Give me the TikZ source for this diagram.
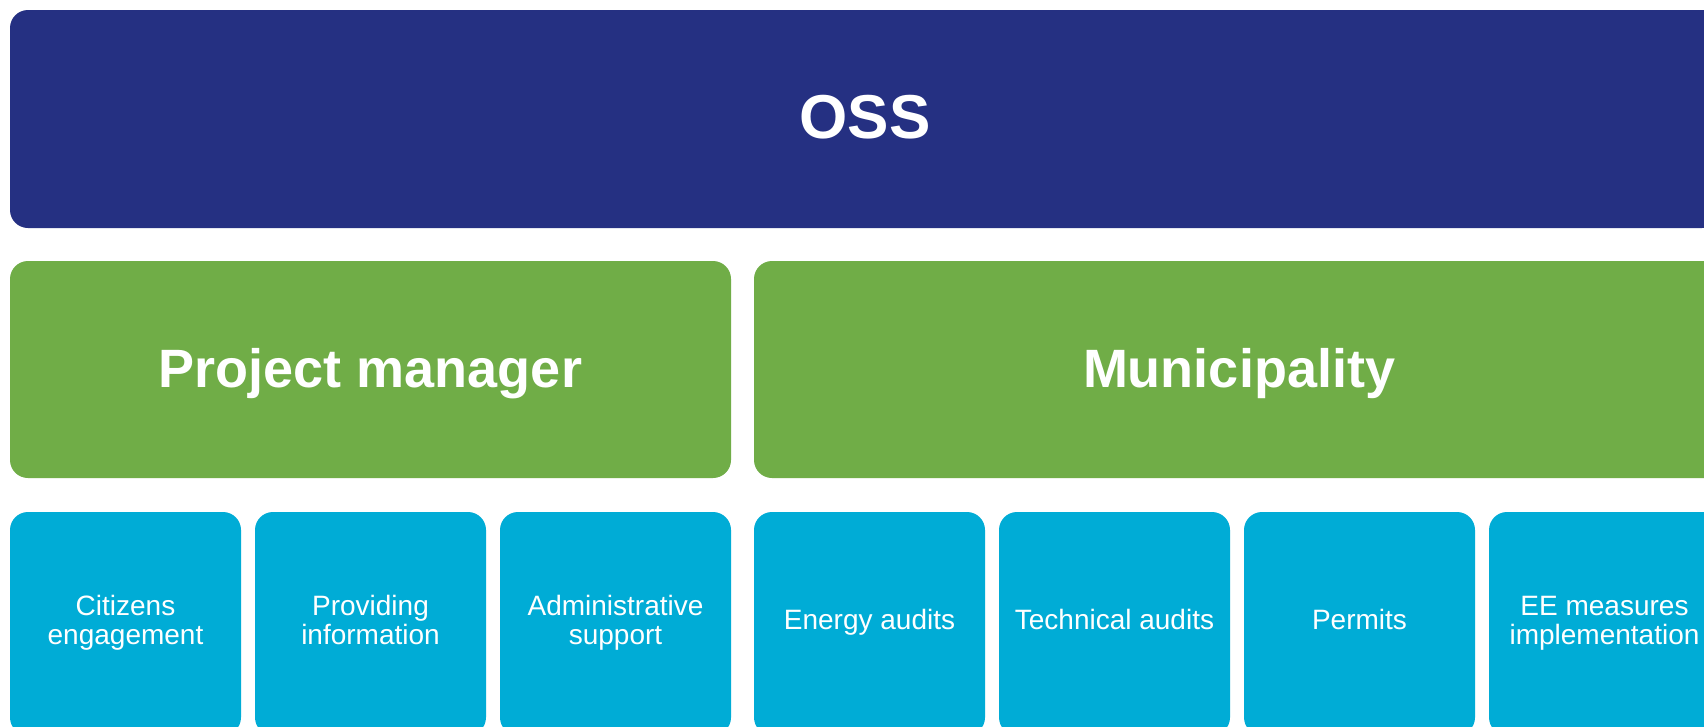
\documentclass[tikz,border=0pt]{standalone}
\usepackage{fontspec}
\setmainfont{Liberation Sans}
\definecolor{ossblue}{RGB}{37,48,130}
\definecolor{ossgreen}{RGB}{112,173,71}
\definecolor{osscyan}{RGB}{0,172,214}
\tikzset{
  box/.style={rectangle, rounded corners=18pt, inner sep=0pt, text=white, align=center},
  topbox/.style={box, fill=ossblue, minimum width=1710pt, minimum height=218pt},
  midbox/.style={box, fill=ossgreen, minimum height=217pt},
  bigtext/.style={text=white, font=\fontsize{62}{66}\selectfont\bfseries, anchor=base, inner sep=0pt},
  midtext/.style={text=white, font=\fontsize{54}{60}\selectfont\bfseries, anchor=base, inner sep=0pt},
  taskbox/.style={box, fill=osscyan, minimum width=231pt, minimum height=223.4pt, font=\fontsize{28}{29}\selectfont},
}
\begin{document}
\begin{tikzpicture}[x=1pt,y=-1pt]
\clip (0,0) rectangle (1704,726);
\fill[white] (0,0) rectangle (1704,726);
\node[topbox] (oss) at (865,119) {};
\node[bigtext] (osst) at (865,138) {OSS};
\node[midbox, minimum width=721pt] (pm) at (370.5,369.5) {};
\node[midbox, minimum width=970pt] (mun) at (1239,369.5) {};
\node[midtext] (pmt) at (370.5,387) {Project manager};
\node[midtext] (munt) at (1239,387) {Municipality};
\node[taskbox] (t1) at (125.5,623.7) {\strut Citizens\\\strut engagement};
\node[taskbox] (t2) at (370.5,623.7) {\strut Providing\\\strut information};
\node[taskbox] (t3) at (615.5,623.7) {\strut Administrative\\\strut support};
\node[taskbox] (t4) at (869.5,623.7) {\strut Energy audits};
\node[taskbox] (t5) at (1114.5,623.7) {\strut Technical audits};
\node[taskbox] (t6) at (1359.5,623.7) {\strut Permits};
\node[taskbox] (t7) at (1604.5,623.7) {\strut EE measures\\\strut implementation};
\end{tikzpicture}
\end{document}
